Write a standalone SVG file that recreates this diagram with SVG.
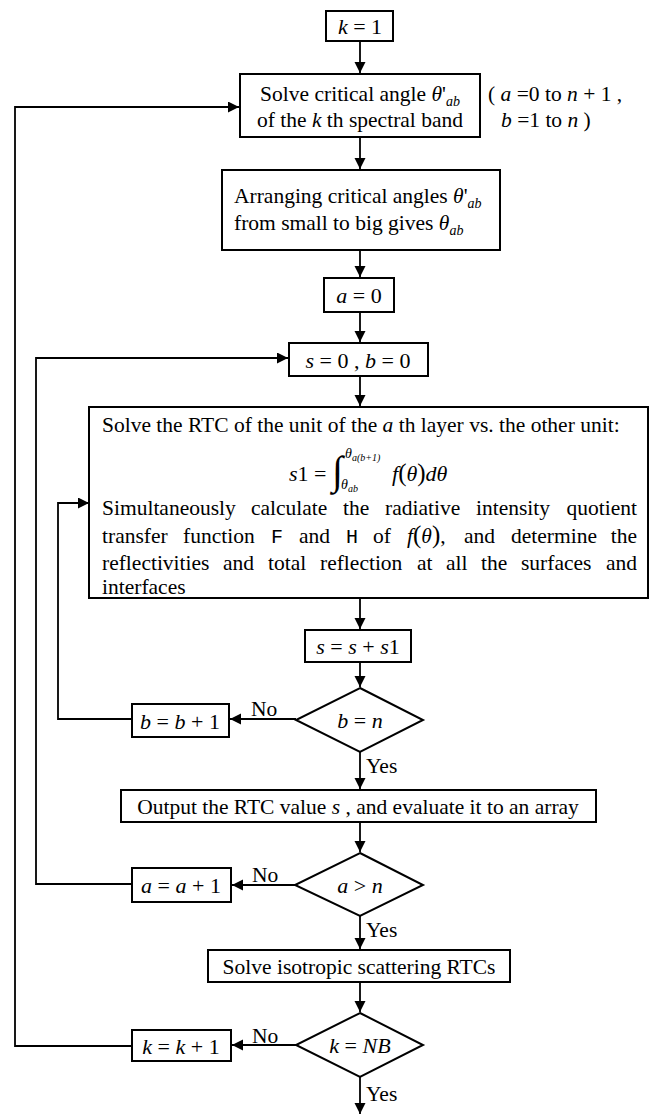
<svg xmlns="http://www.w3.org/2000/svg" width="656" height="1116" viewBox="0 0 656 1116">
<defs>
<style>
text{font-family:"Liberation Serif","Times New Roman",serif;font-size:21.5px;fill:#000}
.i{font-style:italic}
.eq{font-size:22px}
.sub{font-size:14px;font-style:italic}
.box{fill:#fff;stroke:#000;stroke-width:2}
.ln{fill:none;stroke:#000;stroke-width:1.8}
.mid{text-anchor:middle}
.mono{font-family:"Liberation Mono","DejaVu Sans Mono",monospace;font-size:20px}
.par{font-size:25px}
</style>
<marker id="ah" markerWidth="12" markerHeight="12" refX="11" refY="5.5" orient="auto" markerUnits="userSpaceOnUse">
<path d="M0,0 L11,5.5 L0,11 Z" fill="#000"/>
</marker>
</defs>
<rect width="656" height="1116" fill="#fff"/>

<g id="connectors">
<path class="ln" d="M360,41 V73" marker-end="url(#ah)"/>
<path class="ln" d="M360,137 V169" marker-end="url(#ah)"/>
<path class="ln" d="M360,250 V277" marker-end="url(#ah)"/>
<path class="ln" d="M360,312 V342" marker-end="url(#ah)"/>
<path class="ln" d="M360,376 V406" marker-end="url(#ah)"/>
<path class="ln" d="M360,598 V629" marker-end="url(#ah)"/>
<path class="ln" d="M360,662 V687" marker-end="url(#ah)"/>
<path class="ln" d="M360,752 V789" marker-end="url(#ah)"/>
<path class="ln" d="M360,822 V852" marker-end="url(#ah)"/>
<path class="ln" d="M360,916 V949" marker-end="url(#ah)"/>
<path class="ln" d="M360,982 V1012" marker-end="url(#ah)"/>
<path class="ln" d="M360,1077 V1114" marker-end="url(#ah)"/>
<path class="ln" d="M296,719 H230" marker-end="url(#ah)"/>
<path class="ln" d="M295,885 H232" marker-end="url(#ah)"/>
<path class="ln" d="M296,1045 H232" marker-end="url(#ah)"/>
<path class="ln" d="M132,719 H58 V503 H89" marker-end="url(#ah)"/>
<path class="ln" d="M132,884 H36 V358 H288" marker-end="url(#ah)"/>
<path class="ln" d="M132,1046 H15 V107 H239" marker-end="url(#ah)"/>
<text x="251" y="716">No</text>
<text x="252" y="882">No</text>
<text x="252" y="1043">No</text>
<text x="366" y="773">Yes</text>
<text x="366" y="937">Yes</text>
<text x="366" y="1101">Yes</text>
</g>

<g id="n-k1">
<rect class="box" x="326" y="11" width="67" height="30"/>
<text class="mid eq" x="360" y="34"><tspan class="i">k</tspan> = 1</text>
</g>

<g id="n-solve-angle">
<rect class="box" x="240" y="74" width="240" height="63"/>
<text class="mid" x="360" y="101">Solve critical angle  <tspan class="i">θ</tspan>'<tspan class="sub" dy="5">ab</tspan></text>
<text class="mid" x="360" y="127">of the  <tspan class="i">k</tspan> th spectral band</text>
<text x="488" y="101">(  <tspan class="i">a</tspan> =0  to   <tspan class="i">n</tspan> + 1 ,</text>
<text x="501" y="127"><tspan class="i">b</tspan> =1  to  <tspan class="i">n</tspan>  )</text>
</g>

<g id="n-arrange">
<rect class="box" x="222" y="170" width="278" height="80"/>
<text x="234" y="203">Arranging critical angles  <tspan class="i">θ</tspan>'<tspan class="sub" dy="5">ab</tspan></text>
<text x="234" y="230">from small to big gives  <tspan class="i">θ</tspan><tspan class="sub" dy="5">ab</tspan></text>
</g>

<g id="n-a0">
<rect class="box" x="324" y="278" width="70" height="34"/>
<text class="mid eq" x="359" y="303"><tspan class="i">a</tspan> = 0</text>
</g>

<g id="n-s0b0">
<rect class="box" x="289" y="343" width="139" height="33"/>
<text class="mid eq" x="358" y="368"><tspan class="i">s</tspan> = 0 ,  <tspan class="i">b</tspan> = 0</text>
</g>

<g id="n-rtc">
<rect class="box" x="89" y="407" width="559" height="191"/>
<text x="102" y="432">Solve the RTC of the unit of the  <tspan class="i">a</tspan> th layer vs. the other unit:</text>
<text class="eq" x="289" y="481"><tspan class="i">s</tspan>1 =</text>
<text x="332" y="484" style="font-size:40px">∫</text>
<text x="345" y="458" style="font-size:14px" class="i">θ<tspan style="font-size:10px" dy="3">a(b+1)</tspan></text>
<text x="341" y="489" style="font-size:14px" class="i">θ<tspan style="font-size:10px" dy="3">ab</tspan></text>
<text class="eq" x="392" y="481"><tspan class="i">f</tspan><tspan class="par">(</tspan><tspan class="i">θ</tspan><tspan class="par">)</tspan><tspan class="i">dθ</tspan></text>
<text y="515"><tspan x="102">Simultaneously</tspan><tspan x="251">calculate</tspan><tspan x="343">the</tspan><tspan x="385">radiative</tspan><tspan x="476">intensity</tspan><tspan x="637" text-anchor="end">quotient</tspan></text>
<text y="543"><tspan x="102">transfer</tspan><tspan x="183">function</tspan><tspan x="271" class="mono">F</tspan><tspan x="299">and</tspan><tspan x="346" class="mono">H</tspan><tspan x="373">of</tspan><tspan x="407" class="i">f</tspan><tspan class="par">(</tspan><tspan class="i">θ</tspan><tspan class="par">)</tspan><tspan>,</tspan><tspan x="464">and</tspan><tspan x="511">determine</tspan><tspan x="637" text-anchor="end">the</tspan></text>
<text y="570"><tspan x="102">reflectivities</tspan><tspan x="223">and</tspan><tspan x="268">total</tspan><tspan x="320">reflection</tspan><tspan x="417">at</tspan><tspan x="446">all</tspan><tspan x="481">the</tspan><tspan x="521">surfaces</tspan><tspan x="637" text-anchor="end">and</tspan></text>
<text x="102" y="594">interfaces</text>
</g>

<g id="n-sum">
<rect class="box" x="305" y="630" width="106" height="32"/>
<text class="mid eq" x="358" y="654"><tspan class="i">s</tspan> = <tspan class="i">s</tspan> + <tspan class="i">s</tspan>1</text>
</g>

<g id="n-dec-b">
<polygon class="box" points="360,688 423,720 360,752 296,720"/>
<text class="mid eq" x="360" y="728"><tspan class="i">b</tspan> = <tspan class="i">n</tspan></text>
</g>

<g id="n-binc">
<rect class="box" x="132" y="704" width="97" height="33"/>
<text class="mid eq" x="180" y="729"><tspan class="i">b</tspan> = <tspan class="i">b</tspan> + 1</text>
</g>

<g id="n-output">
<rect class="box" x="121" y="790" width="475" height="32"/>
<text class="mid" x="358" y="814">Output the RTC value  <tspan class="i">s</tspan> , and evaluate it to an array</text>
</g>

<g id="n-dec-a">
<polygon class="box" points="360,853 423,885 360,916 295,885"/>
<text class="mid eq" x="360" y="893"><tspan class="i">a</tspan> &gt; <tspan class="i">n</tspan></text>
</g>

<g id="n-ainc">
<rect class="box" x="132" y="868" width="99" height="34"/>
<text class="mid eq" x="181" y="893"><tspan class="i">a</tspan> = <tspan class="i">a</tspan> + 1</text>
</g>

<g id="n-iso">
<rect class="box" x="208" y="950" width="302" height="32"/>
<text class="mid" x="359" y="974">Solve isotropic scattering RTCs</text>
</g>

<g id="n-dec-k">
<polygon class="box" points="360,1013 423,1045 360,1077 296,1045"/>
<text class="mid eq" x="360" y="1053"><tspan class="i">k</tspan> = <tspan class="i">NB</tspan></text>
</g>

<g id="n-kinc">
<rect class="box" x="132" y="1030" width="99" height="31"/>
<text class="mid eq" x="181" y="1054"><tspan class="i">k</tspan> = <tspan class="i">k</tspan> + 1</text>
</g>
</svg>
